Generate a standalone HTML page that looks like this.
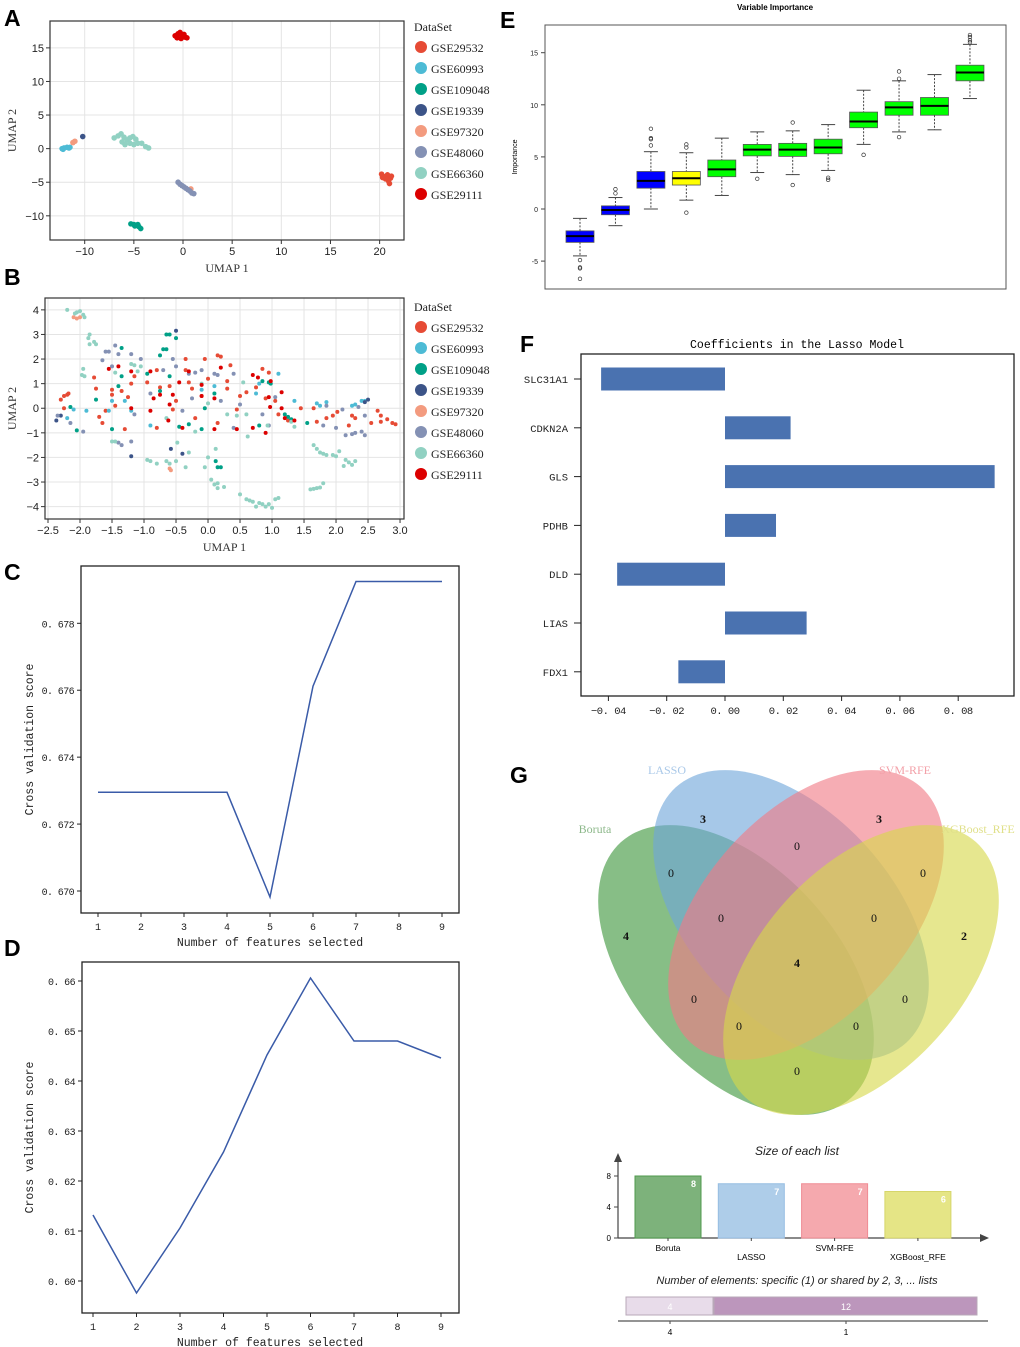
<!DOCTYPE html>
<html><head><meta charset="utf-8"><style>
html,body{margin:0;padding:0;background:#fff}
svg{display:block}
.mono{font-family:"Liberation Mono",monospace}
.sans{font-family:"Liberation Sans",sans-serif}
.serif{font-family:"Liberation Serif",serif}
</style></head><body>
<svg id="fig" xmlns="http://www.w3.org/2000/svg" width="1020" height="1347" viewBox="0 0 1020 1347">
<g class="sans" font-weight="bold" font-size="23" fill="#000">
<text x="4" y="26">A</text>
<text x="4" y="285">B</text>
<text x="4" y="580">C</text>
<text x="4" y="956">D</text>
<text x="500" y="28">E</text>
<text x="520" y="352">F</text>
<text x="510" y="783">G</text>
</g>
</svg>
<script>
const NS='http://www.w3.org/2000/svg';
const fig=document.getElementById('fig');
function mk(tag,attrs,parent,txt){const e=document.createElementNS(NS,tag);for(const k in attrs)e.setAttribute(k,attrs[k]);if(txt!==undefined)e.textContent=txt;(parent||fig).appendChild(e);return e;}

// ===== Data =====
const datasetNames=['GSE29532','GSE60993','GSE109048','GSE19339','GSE97320','GSE48060','GSE66360','GSE29111'];
const datasetColors=['#e64b35','#4dbbd5','#00a087','#3c5488','#f39b7f','#8491b4','#91d1c2','#dc0000'];
const umapA_GSE29532=[[20.2,-3.8],[20.5,-4.2],[20.8,-3.9],[21.1,-4.4],[20.9,-4.8],[21.0,-5.2],[20.6,-4.5],[20.3,-4.3],[21.2,-4.1]];
const umapA_GSE60993=[[-12.3,0],[-12.1,0.1],[-11.8,0.2],[-11.6,0.1],[-11.5,0.2],[-12.2,-0.1]];
const umapA_GSE109048=[[-5.3,-11.2],[-5.0,-11.3],[-4.8,-11.4],[-4.6,-11.3],[-4.5,-11.6],[-4.3,-11.9],[-4.9,-11.5]];
const umapA_GSE19339=[[-10.2,1.8]];
const umapA_GSE97320=[[-11.2,0.9],[-11.0,1.1],[0.8,-6.0]];
const umapA_GSE48060=[[-0.5,-5.0],[-0.3,-5.3],[-0.1,-5.5],[0.1,-5.7],[0.3,-5.9],[0.5,-6.1],[0.7,-6.3],[0.9,-6.6],[1.1,-6.7]];
const umapA_GSE66360=[[-7,1.6],[-6.6,1.9],[-6.3,2.2],[-6.0,1.7],[-5.7,1.3],[-5.4,1.6],[-5.1,1.8],[-5.4,0.8],[-5.0,0.6],[-4.6,0.8],[-4.2,0.8],[-3.8,0.3],[-3.5,0.1],[-6.2,1.0],[-4.8,1.4],[-5.9,0.6]];
const umapA_GSE29111=[[-0.8,16.8],[-0.5,17.1],[-0.3,17.3],[-0.1,16.9],[0.2,16.6],[0.4,16.5],[-0.6,16.5],[-0.2,16.4],[0.1,17.0]];
const umapA=[umapA_GSE29532,umapA_GSE60993,umapA_GSE109048,umapA_GSE19339,umapA_GSE97320,umapA_GSE48060,umapA_GSE66360,umapA_GSE29111];
const umapAxTicks=[-10,-5,0,5,10,15,20];
const umapAyTicks=[-10,-5,0,5,10,15];
const umapB_GSE29532=[[-2.3,0.35],[-2.25,0.5],[-2.2,0.55],[-2.18,0.6],[-2.25,0.0],[-1.78,1.25],[-1.75,0.8],[-1.7,-0.35],[-1.65,-0.6],[-1.6,-0.1],[-1.5,0.55],[-1.5,0.75],[-1.45,0.1],[-1.35,0.7],[-1.3,-0.85],[-1.25,0.45],[-1.2,1.0],[-1.15,1.3],[-0.95,1.05],[-0.8,1.55],[-0.8,-0.8],[-0.75,0.85],[-0.6,0.9],[-0.55,-0.05],[-0.5,0.3],[-0.35,2.0],[-0.3,1.05],[-0.35,1.55],[-0.25,0.8],[-0.2,-0.4],[-0.1,0.5],[-0.05,2.0],[0.0,1.2],[0.15,2.15],[0.2,2.1],[0.15,-0.6],[0.3,1.1],[0.35,1.75],[0.3,0.8],[0.5,0.5],[0.45,-0.05],[0.6,0.65],[0.75,0.85],[0.85,1.6],[0.95,1.45],[0.9,0.4],[1.05,0.3],[1.1,-0.25],[1.25,-0.5],[1.45,0.0],[1.65,0.0],[1.7,-0.55],[1.85,-0.4],[1.95,-0.3],[2.02,-0.15],[2.2,-0.7],[2.25,-0.3],[2.3,-0.4],[2.55,-0.6],[2.65,-0.1],[2.7,-0.3],[2.7,-0.55],[2.8,-0.45],[2.88,-0.6],[2.93,-0.65]];
const umapB_GSE60993=[[-2.2,-0.4],[-2.1,-0.05],[-1.9,-0.1],[-1.55,-0.1],[-1.5,0.3],[-1.3,0.3],[-1.2,-0.1],[-0.9,-0.7],[-0.1,0.75],[0.1,0.9],[0.75,0.6],[0.8,1.0],[1.1,1.4],[1.35,0.3],[1.7,0.2],[1.75,0.1],[1.85,0.25],[2.25,0.1],[2.3,0.15],[2.4,0.3],[2.45,0.3]];
const umapB_GSE109048=[[-2.05,-0.9],[-2.15,0.05],[-1.75,0.35],[-1.5,-0.85],[-1.4,0.9],[-1.35,2.45],[-1.35,1.3],[-0.95,1.4],[-0.75,2.15],[-0.7,2.4],[-0.65,2.4],[-0.65,3.0],[-0.6,3.0],[-0.5,2.85],[-0.6,1.3],[-0.75,0.7],[-0.45,-0.75],[-0.3,-0.65],[-0.1,-0.85],[-0.05,0.0],[0.1,0.6],[0.12,-2.15],[0.15,-2.4],[0.2,-2.4],[0.85,1.1],[0.95,1.05],[0.98,1.0],[0.8,-0.7],[1.2,-0.25],[1.25,-0.35],[1.3,-0.45],[1.55,-0.6]];
const umapB_GSE19339=[[-2.37,-0.5],[-2.3,-0.3],[-1.2,-1.95],[-0.58,-1.65],[-0.5,3.15],[-0.4,-1.85],[2.45,0.25],[2.5,0.35]];
const umapB_GSE97320=[[-2.1,3.7],[-2.05,3.65],[-2.0,3.7],[-0.6,-2.45],[-0.58,-2.52]];
const umapB_GSE48060=[[-2.35,-0.3],[-2.15,-0.6],[-1.95,-0.95],[-1.65,1.95],[-1.6,2.3],[-1.55,2.3],[-1.5,1.7],[-1.45,2.55],[-1.4,2.2],[-1.4,-1.4],[-1.35,-1.5],[-1.2,2.2],[-1.2,-1.35],[-1.15,-0.25],[-1.05,2.0],[-0.9,0.6],[-0.7,1.55],[-0.55,2.0],[-0.5,1.7],[-0.4,-0.1],[-0.3,1.4],[-0.25,0.4],[-0.2,1.45],[-0.1,1.55],[0.1,1.4],[0.15,1.35],[0.2,0.3],[0.4,1.4],[0.4,-0.8],[0.5,0.15],[0.85,-0.25],[0.95,-0.7],[1.05,0.45],[1.8,-0.7],[2.0,-0.8],[2.15,-1.1],[2.25,-1.05],[2.3,-1.0],[2.4,-0.95],[2.45,-1.1],[2.45,-0.3],[2.35,0.05],[2.1,-0.05],[1.85,0.1]];
const umapB_GSE66360=[[-2.2,4.0],[-2.05,3.9],[-2.0,3.95],[-1.95,3.8],[-1.93,3.7],[-2.08,3.85],[-1.85,3.0],[-1.87,2.85],[-1.85,2.6],[-1.78,2.7],[-1.75,2.6],[-1.95,1.6],[-1.97,1.35],[-1.93,1.3],[-1.2,1.8],[-1.15,1.75],[-1.1,1.5],[-1.05,1.7],[-1.45,1.45],[-1.5,-1.35],[-1.45,-1.35],[-0.95,-2.1],[-0.9,-2.15],[-0.8,-2.25],[-0.65,-2.15],[-0.6,-2.25],[-0.5,-2.15],[-0.48,-1.4],[-0.35,-2.4],[-0.3,-1.8],[-0.2,-0.95],[-0.05,-2.4],[0.0,-2.0],[0.05,-2.9],[0.1,-3.1],[0.15,-3.05],[0.15,-3.25],[0.25,-3.2],[0.5,-3.5],[0.6,-3.7],[0.65,-3.75],[0.7,-3.8],[0.75,-4.0],[0.8,-3.85],[0.85,-3.9],[0.9,-4.0],[0.95,-3.9],[1.0,-4.05],[1.05,-3.7],[1.1,-3.65],[0.12,-1.65],[1.65,-1.5],[1.7,-1.65],[1.75,-1.8],[1.8,-1.85],[1.85,-1.9],[1.95,-1.9],[2.0,-1.95],[2.05,-1.75],[2.15,-2.1],[2.2,-2.2],[2.25,-2.3],[2.3,-2.15],[2.12,-2.35],[1.6,-3.3],[1.65,-3.28],[1.7,-3.25],[1.75,-3.22],[1.8,-3.05],[0.55,1.05],[0.6,-0.25],[0.3,-0.25],[0.45,-0.3],[0.93,-0.7],[1.3,-0.55],[1.35,-0.75],[0.62,-1.15],[-0.65,-0.4],[-0.1,1.0],[0.0,0.2]];
const umapB_GSE29111=[[-1.55,1.6],[-1.4,1.7],[-1.2,1.5],[-1.2,0.0],[-0.9,-0.1],[-0.9,1.5],[-0.85,0.4],[-0.75,0.55],[-0.62,-0.5],[-0.6,0.15],[-0.55,0.55],[-0.45,1.05],[-0.4,-0.8],[-0.3,1.5],[-0.1,0.95],[-0.1,0.5],[0.1,0.4],[0.1,-0.85],[0.2,1.65],[0.45,-0.85],[0.7,1.35],[0.7,-0.8],[0.78,1.25],[0.9,-1.0],[0.95,0.45],[0.97,0.05],[0.98,1.1],[1.15,0.65],[1.15,0.0],[1.2,-0.4],[1.35,-0.5]];
const umapB=[umapB_GSE29532,umapB_GSE60993,umapB_GSE109048,umapB_GSE19339,umapB_GSE97320,umapB_GSE48060,umapB_GSE66360,umapB_GSE29111];
const umapBxTicks=[-2.5,-2.0,-1.5,-1.0,-0.5,0.0,0.5,1.0,1.5,2.0,2.5,3.0];
const umapByTicks=[-4,-3,-2,-1,0,1,2,3,4];
const featureCounts=[1,2,3,4,5,6,7,8,9];
const cvScoresC=[0.67295,0.67295,0.67295,0.67295,0.66982,0.67612,0.67925,0.67925,0.67925];
const cvTicksC=[0.670,0.672,0.674,0.676,0.678];
const cvScoresD=[0.6132,0.5976,0.6106,0.6258,0.6452,0.6606,0.6480,0.6480,0.6446];
const cvTicksD=[0.60,0.61,0.62,0.63,0.64,0.65,0.66];
const boxNames=['shadowMin','shadowMean','shadowMax','DLD','DLAT','LIAS','FDX1','CDKN2A','PDHB','SLC31A1','PDHA1','GLS'];
const boxLow=[-4.5,-1.6,0,0.85,1.3,3.5,3.3,3.7,6.2,7.4,7.6,10.6];
const boxQ1=[-3.2,-0.55,2.0,2.3,3.1,5.1,5.05,5.3,7.8,9.0,9.0,12.3];
const boxMed=[-2.6,-0.1,2.7,2.95,3.8,5.7,5.7,5.9,8.4,9.75,9.9,13.1];
const boxQ3=[-2.1,0.3,3.6,3.6,4.7,6.2,6.3,6.7,9.3,10.3,10.7,13.8];
const boxHigh=[-0.9,1.1,5.5,5.4,6.8,7.4,7.5,8.1,11.4,12.3,12.9,15.8];
const boxOutliers=[[-4.9,-5.6,-5.7,-6.7],[1.5,1.9],[6.1,6.7,6.8,7.7],[5.9,6.2,-0.35],[],[2.9],[8.3,2.3],[3.0,2.8],[5.2],[12.5,13.2,6.9],[],[16.0,16.2,16.5,16.7]];
const boxDecision=['shadow','shadow','shadow','tentative','confirmed','confirmed','confirmed','confirmed','confirmed','confirmed','confirmed','confirmed'];
const boxYTicks=[-5,0,5,10,15];
const lassoGenes=['SLC31A1','CDKN2A','GLS','PDHB','DLD','LIAS','FDX1'];
const lassoCoefs=[-0.0425,0.0225,0.0925,0.0175,-0.037,0.028,-0.016];
const lassoTicks=[-0.04,-0.02,0.00,0.02,0.04,0.06,0.08];
const listNames=['Boruta','LASSO','SVM-RFE','XGBoost_RFE'];
const listSizes=[8,7,7,6];
const listTicks=[0,4,8];
const sharedLabels=['4','1'];
const sharedCounts=[4,12];

function scatterPanel(cfg){
 const g=mk('g',{});
 
 
 const sx=v=>cfg.x0+(v-cfg.xd[0])/(cfg.xd[1]-cfg.xd[0])*(cfg.x1-cfg.x0);
 const sy=v=>cfg.y1-(v-cfg.yd[0])/(cfg.yd[1]-cfg.yd[0])*(cfg.y1-cfg.y0);
 cfg.xt.forEach(t=>{const l=mk('line',{x1:sx(t),x2:sx(t),y1:cfg.y0,y2:cfg.y1,stroke:'#e4e4e4','stroke-width':1},g);
  
  mk('line',{x1:sx(t),x2:sx(t),y1:cfg.y1,y2:cfg.y1+4,stroke:'#333'},g);
  const tx=mk('text',{x:sx(t),y:cfg.y1+15,'text-anchor':'middle','font-size':11,class:'sans',fill:'#222'},g,(t<0?'\u2212':'')+Math.abs(t).toFixed(cfg.xdec));
  });
 cfg.yt.forEach(t=>{const l=mk('line',{x1:cfg.x0,x2:cfg.x1,y1:sy(t),y2:sy(t),stroke:'#e4e4e4','stroke-width':1},g);
  
  mk('line',{x1:cfg.x0-4,x2:cfg.x0,y1:sy(t),y2:sy(t),stroke:'#333'},g);
  const tx=mk('text',{x:cfg.x0-6,y:sy(t)+4,'text-anchor':'end','font-size':11,class:'sans',fill:'#222'},g,(t<0?'\u2212':'')+Math.abs(t));
  });
 cfg.data.forEach((pts,i)=>{pts.forEach(p=>{const c=mk('circle',{cx:sx(p[0]),cy:sy(p[1]),r:cfg.r,fill:datasetColors[i]},g);
  });});
 const fr=mk('rect',{x:cfg.x0,y:cfg.y0,width:cfg.x1-cfg.x0,height:cfg.y1-cfg.y0,fill:'none',stroke:'#333','stroke-width':1.2},g);
 
 const xl=mk('text',{x:(cfg.x0+cfg.x1)/2,y:cfg.y1+32,'text-anchor':'middle','font-size':12,class:'serif',fill:'#333'},g,'UMAP 1');
 
 const yl=mk('text',{x:0,y:0,'text-anchor':'middle','font-size':12,class:'serif',fill:'#333',transform:`translate(${cfg.ylx},${(cfg.y0+cfg.y1)/2}) rotate(-90)`},g,'UMAP 2');
 
 const lg=mk('g',{},g);
 mk('text',{x:414,y:cfg.ly-16,'font-size':12,class:'serif',fill:'#222'},lg,'DataSet');
 datasetNames.forEach((n,i)=>{const e=mk('g',{},lg);
  mk('circle',{cx:421,cy:cfg.ly+i*21,r:6,fill:datasetColors[i]},e);
  mk('text',{x:431,y:cfg.ly+i*21+5,'font-size':12,class:'serif',fill:'#222'},e,n);});
}
scatterPanel({name:'umap-plot-a',x0:50,x1:404,y0:21,y1:240,xd:[-13.53,22.48],yd:[-13.6,19.0],xt:umapAxTicks,yt:umapAyTicks,data:umapA,r:2.8,xdec:0,ylx:16,ly:47});
scatterPanel({name:'umap-plot-b',x0:45,x1:404,y0:298,y1:519,xd:[-2.547,3.062],yd:[-4.503,4.482],xt:umapBxTicks,yt:umapByTicks,data:umapB,r:2,xdec:1,ylx:16,ly:327});

function linePanel(cfg){
 const g=mk('g',{});
 const sx=v=>cfg.xa+(v-1)*(cfg.xb-cfg.xa)/8;
 const sy=v=>cfg.ya+(v-cfg.va)/(cfg.vb-cfg.va)*(cfg.yb-cfg.ya);
 const fr=mk('rect',{x:cfg.x0,y:cfg.y0,width:cfg.x1-cfg.x0,height:cfg.y1-cfg.y0,fill:'none',stroke:'#222','stroke-width':1.3},g);
 
 featureCounts.forEach(f=>{mk('line',{x1:sx(f),x2:sx(f),y1:cfg.y1,y2:cfg.y1+4,stroke:'#222'},g);
  const t=mk('text',{x:sx(f),y:cfg.y1+17,'text-anchor':'middle','font-size':10,class:'mono',fill:'#222'},g,String(f));
  });
 cfg.ticks.forEach(v=>{mk('line',{x1:cfg.x0-4,x2:cfg.x0,y1:sy(v),y2:sy(v),stroke:'#222'},g);
  const t=mk('text',{x:cfg.x0-7,y:sy(v)+4,'text-anchor':'end','font-size':10,'letter-spacing':-0.6,class:'mono',fill:'#222'},g,'0. '+v.toFixed(cfg.dec).slice(2));
  });
 const pl=mk('polyline',{points:cfg.vals.map((v,i)=>sx(featureCounts[i])+','+sy(v)).join(' '),fill:'none',stroke:'#3a5ba8','stroke-width':1.5},g);
 
 const xl=mk('text',{x:270,y:cfg.y1+33,'text-anchor':'middle','font-size':11.5,class:'mono',fill:'#222'},g,'Number of features selected');
 
 const yl=mk('text',{x:0,y:0,'text-anchor':'middle','font-size':11.5,class:'mono',fill:'#222',transform:`translate(33,${(cfg.y0+cfg.y1)/2}) rotate(-90)`},g,'Cross validation score');
 
}
linePanel({name:'cv-line-chart-c',x0:81,x1:459,y0:566,y1:913,xa:98,xb:442,ya:623.3,yb:891,va:0.678,vb:0.670,ticks:cvTicksC,vals:cvScoresC,dec:3});
linePanel({name:'cv-line-chart-d',x0:82,x1:459,y0:962,y1:1313,xa:93,xb:441,ya:981,yb:1281,va:0.66,vb:0.60,ticks:cvTicksD,vals:cvScoresD,dec:2});

(function(){
 const g=mk('g',{});
 const sy=v=>209-v*10.42;const cx=i=>580+i*35.45;const w=28;
 const colors={shadow:'#0000ff',tentative:'#ffff00',confirmed:'#00ff00'};
 const t=mk('text',{x:775,y:10,'text-anchor':'middle','font-size':8,'font-weight':'bold',class:'sans'},g,'Variable Importance');
 
 boxYTicks.forEach(v=>{mk('line',{x1:541,x2:545,y1:sy(v),y2:sy(v),stroke:'#444'},g);
  const l=mk('text',{x:538,y:sy(v)+3,'text-anchor':'end','font-size':7,class:'sans',fill:'#222'},g,String(v));
  });
 const yl=mk('text',{x:0,y:0,'text-anchor':'middle','font-size':7,class:'sans',transform:'translate(517,157) rotate(-90)'},g,'Importance');
 
 mk('clipPath',{id:'eclip'},g);mk('rect',{x:540,y:290,width:470,height:40},document.getElementById('eclip'));
 boxNames.forEach((n,i)=>{const b=mk('g',{},g);
  const x=cx(i);
  mk('line',{x1:x,x2:x,y1:sy(boxHigh[i]),y2:sy(boxQ3[i]),stroke:'#444','stroke-dasharray':'2,1.5'},b);
  mk('line',{x1:x,x2:x,y1:sy(boxQ1[i]),y2:sy(boxLow[i]),stroke:'#444','stroke-dasharray':'2,1.5'},b);
  mk('line',{x1:x-7,x2:x+7,y1:sy(boxHigh[i]),y2:sy(boxHigh[i]),stroke:'#444'},b);
  mk('line',{x1:x-7,x2:x+7,y1:sy(boxLow[i]),y2:sy(boxLow[i]),stroke:'#444'},b);
  mk('rect',{x:x-w/2,y:sy(boxQ3[i]),width:w,height:sy(boxQ1[i])-sy(boxQ3[i]),fill:colors[boxDecision[i]],stroke:'#555','stroke-width':0.8},b);
  mk('line',{x1:x-w/2,x2:x+w/2,y1:sy(boxMed[i]),y2:sy(boxMed[i]),stroke:'#000','stroke-width':2},b);
  boxOutliers[i].forEach(o=>mk('circle',{cx:x,cy:sy(o),r:1.8,fill:'none',stroke:'#333','stroke-width':0.7},b));
  const lab=mk('text',{x:0,y:0,'text-anchor':'end','font-size':7,class:'sans','clip-path':'url(#eclip)',transform:`translate(${x+2.5},296) rotate(-90)`},g,n);
  });
 const fr=mk('rect',{x:545,y:25,width:461,height:264,fill:'none',stroke:'#555','stroke-width':1},g);
 
})();

(function(){
 const g=mk('g',{});
 const sx=v=>725+v*2915;const cy=i=>379+i*48.8;
 const t=mk('text',{x:797,y:348,'text-anchor':'middle','font-size':11.5,class:'mono'},g,'Coefficients in the Lasso Model');
 
 lassoGenes.forEach((n,i)=>{const v=lassoCoefs[i];
  const r=mk('rect',{x:Math.min(sx(0),sx(v)),y:cy(i)-11.5,width:Math.abs(sx(v)-sx(0)),height:23,fill:'#4a72b0'},g);
  
  mk('line',{x1:574,x2:581,y1:cy(i),y2:cy(i),stroke:'#222'},g);
  const l=mk('text',{x:568,y:cy(i)+4,'text-anchor':'end','font-size':10.5,class:'mono',fill:'#222'},g,n);
  });
 lassoTicks.forEach(v=>{mk('line',{x1:sx(v),x2:sx(v),y1:696,y2:701,stroke:'#222'},g);
  const l=mk('text',{x:sx(v),y:714,'text-anchor':'middle','font-size':10.5,'letter-spacing':-0.5,class:'mono',fill:'#222'},g,(v<0?'\u2212':'')+'0. '+Math.abs(v).toFixed(2).slice(2));
  });
 const fr=mk('rect',{x:581,y:354,width:433,height:342,fill:'none',stroke:'#222','stroke-width':1.3},g);
 
})();

(function(){
 const g=mk('g',{});
 const ells=[['boruta',736,970,48,'#3d963b'],['lasso',791,915,48,'#6fa6da'],['svm-rfe',806,915,-48,'#f07b86'],['xgboost-rfe',861,970,-48,'#d6d84a']];
 ells.forEach(e=>{const el=mk('ellipse',{cx:0,cy:0,rx:172,ry:102,fill:e[4],'fill-opacity':0.62,transform:`translate(${e[1]},${e[2]}) rotate(${e[3]})`},g);
  });
 const labs=[['LASSO',667,774,'#a9c8e8'],['SVM-RFE',905,774,'#f3a0a8'],['Boruta',595,833,'#8cb88a'],['XGBoost_RFE',978,833,'#e0e08a']];
 labs.forEach(l=>{const t=mk('text',{x:l[1],y:l[2],'text-anchor':'middle','font-size':12,class:'serif',fill:l[3]},g,l[0]);
  });
 const nums=[['3',703,823],['3',879,823],['0',797,850],['0',671,877],['0',923,877],['4',626,940],['0',721,922],['0',874,922],['2',964,940],['4',797,967],['0',694,1003],['0',905,1003],['0',739,1030],['0',856,1030],['0',797,1075]];
 nums.forEach(n=>{const t=mk('text',{x:n[1],y:n[2],'text-anchor':'middle','font-size':12,class:'serif','font-weight':n[0]==='0'?'normal':'bold',fill:'#111'},g,n[0]);
  });
})();

(function(){
 const g=mk('g',{});
 const sy=v=>1238-v*7.75;const bx=i=>635+i*83.3;const bw=66;
 const cols=['#7db27b','#aecde9','#f5a9ae','#e5e586'],strokes=['#4f9a4d','#96bde2','#ef8b93','#d6d66a'];
 const t=mk('text',{x:797,y:1155,'text-anchor':'middle','font-size':12,'font-style':'italic',class:'sans',fill:'#222'},g,'Size of each list');
 
 mk('line',{x1:618,x2:618,y1:1238,y2:1160,stroke:'#444','stroke-width':1.2},g);
 mk('path',{d:'M614,1162 L618,1153 L622,1162 Z',fill:'#444'},g);
 mk('line',{x1:618,x2:982,y1:1238,y2:1238,stroke:'#444','stroke-width':1.2},g);
 mk('path',{d:'M980,1234 L989,1238 L980,1242 Z',fill:'#444'},g);
 listTicks.forEach(v=>{mk('line',{x1:614,x2:618,y1:sy(v),y2:sy(v),stroke:'#444'},g);
  mk('text',{x:611,y:sy(v)+3,'text-anchor':'end','font-size':8,class:'sans'},g,String(v));});
 listNames.forEach((n,i)=>{const v=listSizes[i];
  const r=mk('rect',{x:bx(i),y:sy(v),width:bw,height:sy(0)-sy(v),fill:cols[i],stroke:strokes[i]},g);
  
  mk('text',{x:bx(i)+bw-5,y:sy(v)+11,'text-anchor':'end','font-size':9,'font-weight':'bold',class:'sans',fill:'#fff'},g,String(v));
  mk('line',{x1:bx(i)+bw/2,x2:bx(i)+bw/2,y1:1238,y2:1241,stroke:'#444'},g);
  const l=mk('text',{x:bx(i)+bw/2,y:i%2?1260:1251,'text-anchor':'middle','font-size':8.5,class:'sans'},g,n);
  });
 const t2=mk('text',{x:797,y:1284,'text-anchor':'middle','font-size':11,'font-style':'italic',class:'sans',fill:'#222'},g,'Number of elements: specific (1) or shared by 2, 3, ... lists');
 
 const total=sharedCounts.reduce((a,b)=>a+b,0);const x0=626,W=352;let cx=x0;
 const scol=['#e8dcea','#bc96bc'];
 sharedCounts.forEach((c,i)=>{const w=c/total*W;
  const r=mk('rect',{x:cx,y:1297,width:w-1,height:18,fill:scol[i],stroke:'#b8a8b8'},g);
  
  mk('text',{x:cx+w/2,y:1310,'text-anchor':'middle','font-size':9,class:'sans',fill:'#fff'},g,String(c));
  mk('line',{x1:cx+w/2,x2:cx+w/2,y1:1321,y2:1324,stroke:'#444'},g);
  mk('text',{x:cx+w/2,y:1335,'text-anchor':'middle','font-size':8.5,class:'sans'},g,sharedLabels[i]);
  cx+=w;});
 mk('line',{x1:618,x2:988,y1:1321,y2:1321,stroke:'#555','stroke-width':1.2},g);
})();
</script>
</body></html>
